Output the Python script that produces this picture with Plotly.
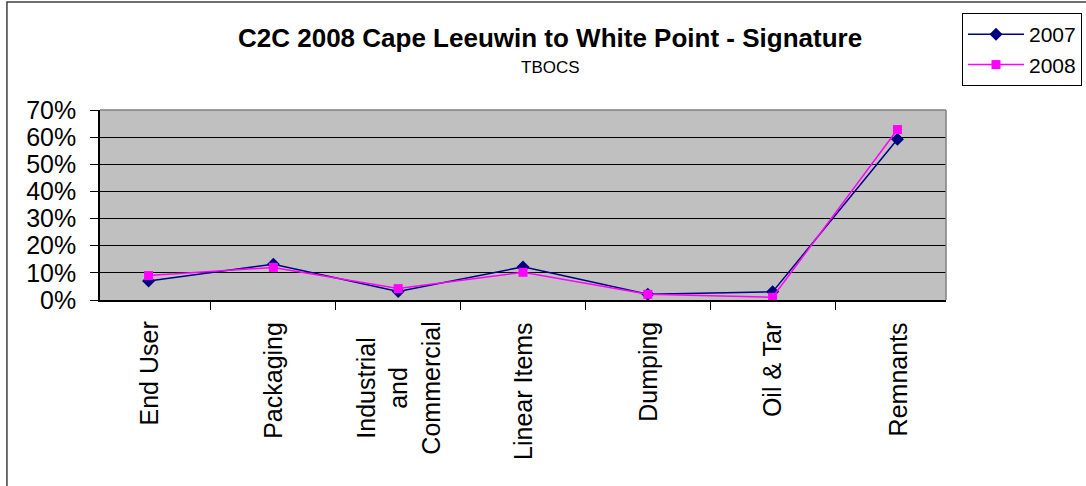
import plotly.graph_objects as go

# categories and values (fractions)
categories = ['End User', 'Packaging', 'Industrial<br>and<br>Commercial', 'Linear Items',
              'Dumping', 'Oil & Tar', 'Remnants']
values_2007 = [0.07, 0.132, 0.031, 0.122, 0.021, 0.030, 0.592]
values_2008 = [0.090, 0.120, 0.042, 0.102, 0.021, 0.010, 0.628]
y_ticks = [0, 0.1, 0.2, 0.3, 0.4, 0.5, 0.6, 0.7]

FONT = 'Liberation Sans, Arial, sans-serif'

fig = go.Figure()
fig.add_trace(go.Scatter(x=categories, y=values_2007, name='2007', mode='lines+markers',
                         legendgroup='a',
                         line=dict(color='#000080', width=1.5),
                         marker=dict(symbol='diamond', size=10, color='#000080')))
fig.add_trace(go.Scatter(x=categories, y=values_2008, name='2008', mode='lines+markers',
                         legendgroup='b',
                         line=dict(color='#FF00FF', width=1.5),
                         marker=dict(symbol='square', size=9, color='#FF00FF')))

# category labels, rotated and centred like the original
annotations = []
for c in categories:
    annotations.append(dict(x=c, xref='x', y=-0.105, yref='paper', text=c, textangle=-90,
                            showarrow=False, xanchor='center', yanchor='top', align='center',
                            font=dict(family=FONT, size=25, color='black')))

annotations.append(dict(x=0.532, y=1.379, xref='paper', yref='paper', showarrow=False,
                        text='<b>C2C 2008 Cape Leeuwin to White Point - Signature</b>',
                        font=dict(family=FONT, size=26, color='black'),
                        xanchor='center', yanchor='middle'))
annotations.append(dict(x=0.532, y=1.226, xref='paper', yref='paper', showarrow=False,
                        text='TBOCS', font=dict(family=FONT, size=17, color='black'),
                        xanchor='center', yanchor='middle'))

shapes = [
    # outer chart border (only top and left visible)
    dict(type='rect', xref='paper', yref='paper', x0=-0.11, x1=1.3, y0=-1.5, y1=1.568,
         line=dict(color='#404040', width=1.5), layer='below'),
    # gray top and right edges of the plot area
    dict(type='line', xref='paper', yref='paper', x0=0, x1=1, y0=1, y1=1,
         line=dict(color='#808080', width=1.5)),
    dict(type='line', xref='paper', yref='paper', x0=1, x1=1, y0=0, y1=1,
         line=dict(color='#808080', width=1.5)),
]

fig.update_layout(
    width=1086, height=486,
    margin=dict(l=100, r=140, t=110, b=186),
    paper_bgcolor='white', plot_bgcolor='#C0C0C0',
    font=dict(family=FONT, color='black'),
    showlegend=True,
    legend=dict(x=0.8858, y=0.973, xref='container', yref='container',
                xanchor='left', yanchor='top',
                bordercolor='black', borderwidth=1, bgcolor='white',
                font=dict(family=FONT, size=21), itemwidth=56, tracegroupgap=0),
    xaxis=dict(type='category', showticklabels=False, tickson='boundaries',
               ticks='outside', ticklen=8, tickcolor='black', showgrid=False,
               showline=True, linecolor='black', linewidth=1.5, zeroline=False),
    yaxis=dict(range=[0, 0.7], tickvals=y_ticks, tickformat='.0%',
               ticks='outside', ticklen=8, tickcolor='black', ticklabelstandoff=9,
               showgrid=True, gridcolor='black', gridwidth=1,
               showline=True, linecolor='black', linewidth=1.5, zeroline=False,
               tickfont=dict(family=FONT, size=25)),
    annotations=annotations, shapes=shapes,
)

# drop the default body margin so the figure fills the window exactly
fig.write_html('out.html', config={'displayModeBar': False},
               post_script="document.body.style.margin='0';")
